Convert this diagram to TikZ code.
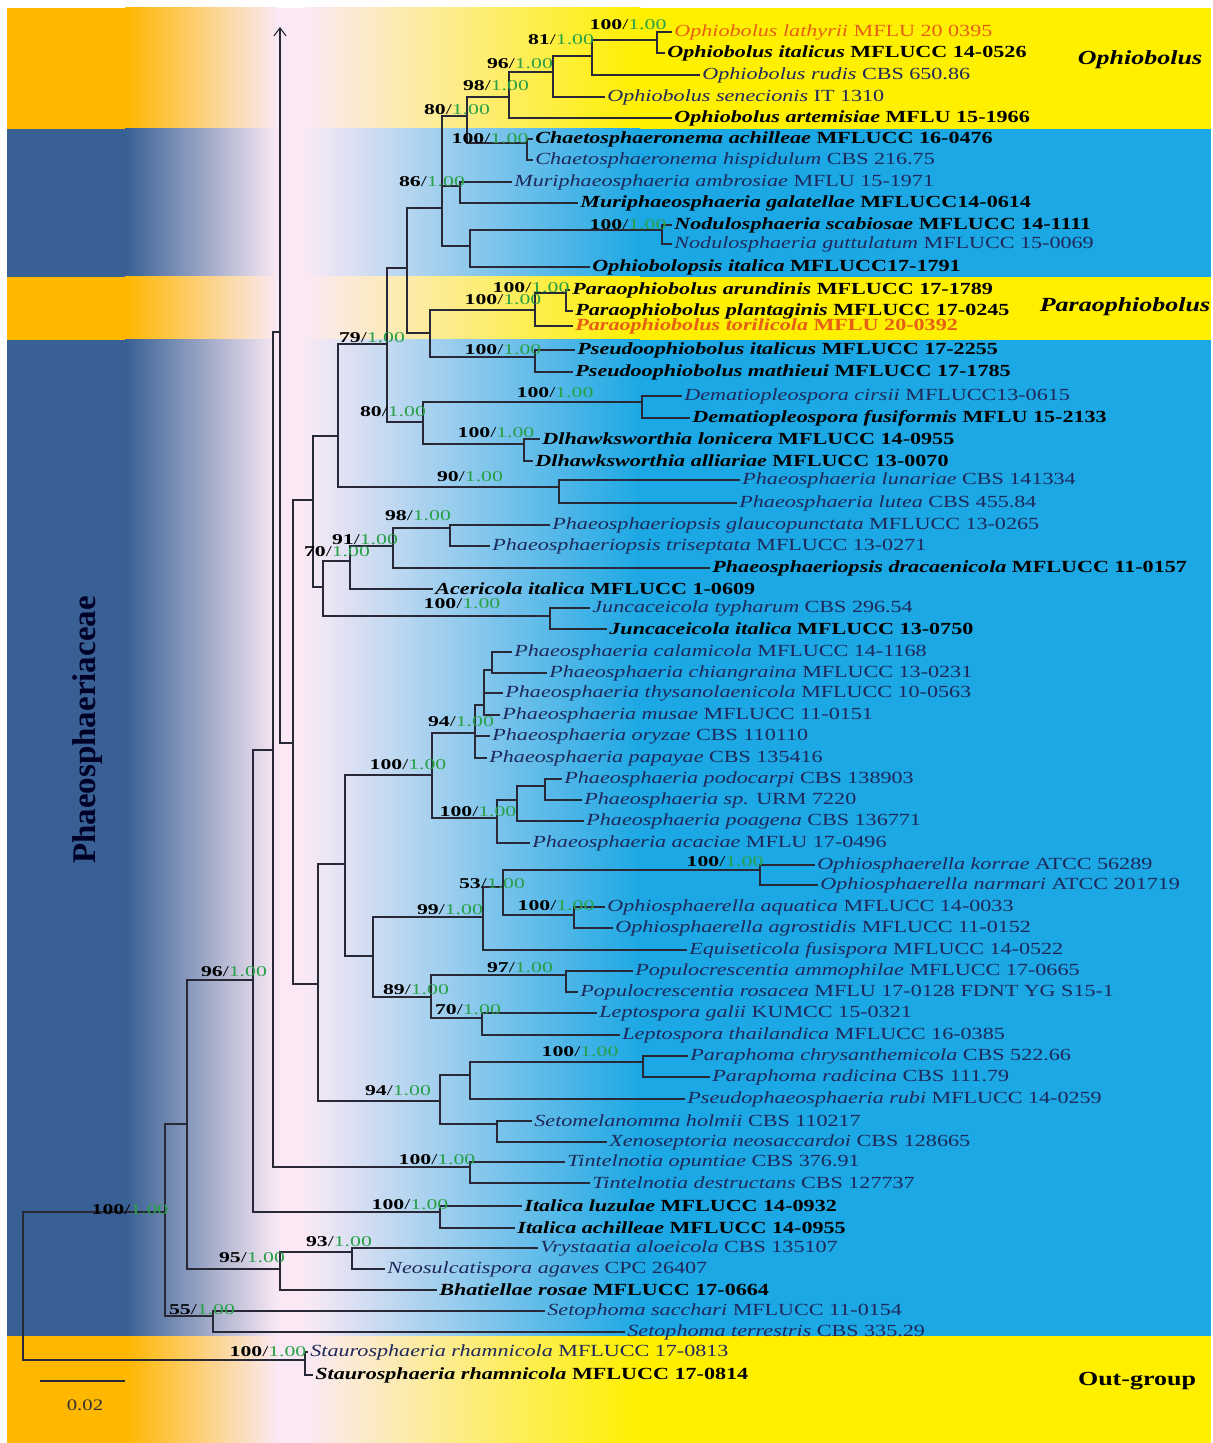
\documentclass[tikz,border=0pt]{standalone}
\usepackage{fontspec}
\usetikzlibrary{arrows.meta}
\setmainfont{Liberation Serif}
\newfontfamily\treefont{Liberation Serif}[FakeStretch=1.3]
\newfontfamily\suppfont{Liberation Serif}[FakeStretch=1.45]

\definecolor{bandyellow}{RGB}{255,240,0}
\definecolor{bandorange}{RGB}{255,183,0}
\definecolor{bandcyan}{RGB}{28,168,228}
\definecolor{banddark}{RGB}{56,96,148}
\definecolor{paleband}{RGB}{250,233,245}
\definecolor{suppgreen}{RGB}{40,160,70}
\definecolor{tipblue}{RGB}{30,40,90}
\definecolor{tiporange}{RGB}{230,95,20}
\definecolor{treeline}{RGB}{40,40,55}

\newcommand{\taxon}[2]{\textit{#1} #2}
\newcommand{\bsv}[1]{\textbf{#1}/\textcolor{suppgreen}{1.00}}
\newcommand{\cladeband}[4]{%
  \fill[#3] (7,#1) rectangle (125,#2);
  \shade[left color=#3, right color=paleband] (125,#1) rectangle (278,#2);
  \fill[paleband] (278,#1) rectangle (305,#2);
  \shade[left color=paleband, right color=#4] (305,#1) rectangle (640,#2);
  \fill[#4] (640,#1) rectangle (1211,#2);}

\tikzset{
  branch/.style={draw=treeline, line width=0.55pt},
  tip/.style={anchor=west, inner xsep=1pt, inner ysep=0pt, text=tipblue,
    font=\treefont\fontsize{8.5}{9}\selectfont},
  btip/.style={tip, text=black, font=\treefont\fontsize{8.5}{9}\selectfont\bfseries},
  otip/.style={tip, text=tiporange},
  obtip/.style={btip, text=tiporange},
  supp/.style={inner sep=0pt, font=\suppfont\fontsize{7.5}{8}\selectfont},
  clade/.style={font=\treefont\fontsize{10}{11}\selectfont\bfseries}
}

\begin{document}
\begin{tikzpicture}[x=0.5pt, y=-0.5pt]
\useasboundingbox (0,0) rectangle (1213,1443);
\fill[white] (0,0) rectangle (1213,1443);

% clade bands
\cladeband{8}{129}{bandorange}{bandyellow}
\cladeband{129}{277}{banddark}{bandcyan}
\cladeband{277}{340}{bandorange}{bandyellow}
\cladeband{340}{1336}{banddark}{bandcyan}
\cladeband{1336}{1443}{bandorange}{bandyellow}

% internal nodes
\coordinate (root) at (23,1286);
\coordinate (ing) at (165,1212);
\coordinate (og) at (305,1360);
\coordinate (a96) at (187,1124);
\coordinate (s55) at (213,1316);
\coordinate (b) at (253,980);
\coordinate (v95) at (280,1269);
\coordinate (w93) at (352,1252);
\coordinate (ita) at (440,1212);
\coordinate (c) at (273,750);
\coordinate (tin) at (470,1167);
\coordinate (d) at (280,332);
\coordinate (arrowtop) at (280,27);
\coordinate (e293) at (293,743);
\coordinate (e313) at (313,500);
\coordinate (f317) at (318,984);
\coordinate (g79) at (338,436);
\coordinate (h70) at (323,587);
\coordinate (p90) at (559,487);
\coordinate (m387) at (387,344);
\coordinate (q80) at (423,422);
\coordinate (dem) at (642,402);
\coordinate (dlh) at (524,444);
\coordinate (n407) at (407,268);
\coordinate (par) at (430,333);
\coordinate (pa1) at (535,310);
\coordinate (pa2) at (566,293);
\coordinate (pse) at (535,357);
\coordinate (r442) at (442,208);
\coordinate (mur) at (460,186);
\coordinate (u470) at (470,246);
\coordinate (nod) at (662,230);
\coordinate (t467) at (467,116);
\coordinate (cha) at (527,143);
\coordinate (o98) at (509,97);
\coordinate (o96) at (553,72);
\coordinate (o81) at (592,56);
\coordinate (o100) at (657,40);
\coordinate (j91) at (350,561);
\coordinate (k) at (393,546);
\coordinate (l98) at (450,528);
\coordinate (jun) at (550,616);
\coordinate (v1) at (345,864);
\coordinate (v2) at (440,1101);
\coordinate (y100) at (432,775);
\coordinate (y2) at (373,956);
\coordinate (z94) at (475,733);
\coordinate (za) at (484,705);
\coordinate (zb) at (492,670);
\coordinate (z2) at (497,818);
\coordinate (z3) at (517,800);
\coordinate (z4) at (545,786);
\coordinate (aa) at (483,917);
\coordinate (cc) at (503,887);
\coordinate (dd) at (760,870);
\coordinate (ee) at (574,915);
\coordinate (bb) at (431,997);
\coordinate (ff) at (566,975);
\coordinate (gg) at (482,1018);
\coordinate (x1) at (470,1075);
\coordinate (x2) at (497,1124);
\coordinate (pp) at (643,1062);

% tips
\node[otip] (olat) at (672,32) {\taxon{Ophiobolus lathyrii}{MFLU 20 0395}};
\node[btip] (oita) at (665,53) {\taxon{Ophiobolus italicus}{MFLUCC 14-0526}};
\node[tip] (orud) at (700,75) {\taxon{Ophiobolus rudis}{CBS 650.86}};
\node[tip] (osen) at (605,97) {\taxon{Ophiobolus senecionis}{IT 1310}};
\node[btip] (oart) at (672,118) {\taxon{Ophiobolus artemisiae}{MFLU 15-1966}};
\node[btip] (cach) at (533,139) {\taxon{Chaetosphaeronema achilleae}{MFLUCC 16-0476}};
\node[tip] (chis) at (533,160) {\taxon{Chaetosphaeronema hispidulum}{CBS 216.75}};
\node[tip] (mamb) at (512,182) {\taxon{Muriphaeosphaeria ambrosiae}{MFLU 15-1971}};
\node[btip] (mgal) at (578,203) {\taxon{Muriphaeosphaeria galatellae}{MFLUCC14-0614}};
\node[btip] (nsca) at (672,225) {\taxon{Nodulosphaeria scabiosae}{MFLUCC 14-1111}};
\node[tip] (ngut) at (672,244) {\taxon{Nodulosphaeria guttulatum}{MFLUCC 15-0069}};
\node[btip] (opit) at (590,267) {\taxon{Ophiobolopsis italica}{MFLUCC17-1791}};
\node[btip] (paru) at (570,290) {\taxon{Paraophiobolus arundinis}{MFLUCC 17-1789}};
\node[btip] (ppla) at (573,311) {\taxon{Paraophiobolus plantaginis}{MFLUCC 17-0245}};
\node[obtip] (ptor) at (573,326) {\taxon{Paraophiobolus torilicola}{MFLU 20-0392}};
\node[btip] (psit) at (575,350) {\taxon{Pseudoophiobolus italicus}{MFLUCC 17-2255}};
\node[btip] (psma) at (573,372) {\taxon{Pseudoophiobolus mathieui}{MFLUCC 17-1785}};
\node[tip] (dcir) at (682,396) {\taxon{Dematiopleospora cirsii}{MFLUCC13-0615}};
\node[btip] (dfus) at (690,418) {\taxon{Dematiopleospora fusiformis}{MFLU 15-2133}};
\node[btip] (dlon) at (540,439) {\taxon{Dlhawksworthia lonicera}{MFLUCC 14-0955}};
\node[btip] (dall) at (533,461) {\taxon{Dlhawksworthia alliariae}{MFLUCC 13-0070}};
\node[tip] (plun) at (740,480) {\taxon{Phaeosphaeria lunariae}{CBS 141334}};
\node[tip] (plut) at (737,503) {\taxon{Phaeosphaeria lutea}{CBS 455.84}};
\node[tip] (pgla) at (550,525) {\taxon{Phaeosphaeriopsis glaucopunctata}{MFLUCC 13-0265}};
\node[tip] (ptri) at (490,546) {\taxon{Phaeosphaeriopsis triseptata}{MFLUCC 13-0271}};
\node[btip] (pdra) at (710,568) {\taxon{Phaeosphaeriopsis dracaenicola}{MFLUCC 11-0157}};
\node[btip] (aita) at (433,589) {\taxon{Acericola italica}{MFLUCC 1-0609}};
\node[tip] (jtyp) at (590,608) {\taxon{Juncaceicola typharum}{CBS 296.54}};
\node[btip] (jita) at (607,629) {\taxon{Juncaceicola italica}{MFLUCC 13-0750}};
\node[tip] (pcal) at (512,652) {\taxon{Phaeosphaeria calamicola}{MFLUCC 14-1168}};
\node[tip] (pchi) at (547,673) {\taxon{Phaeosphaeria chiangraina}{MFLUCC 13-0231}};
\node[tip] (pthy) at (503,693) {\taxon{Phaeosphaeria thysanolaenicola}{MFLUCC 10-0563}};
\node[tip] (pmus) at (500,715) {\taxon{Phaeosphaeria musae}{MFLUCC 11-0151}};
\node[tip] (pory) at (490,736) {\taxon{Phaeosphaeria oryzae}{CBS 110110}};
\node[tip] (ppap) at (487,758) {\taxon{Phaeosphaeria papayae}{CBS 135416}};
\node[tip] (ppod) at (562,779) {\taxon{Phaeosphaeria podocarpi}{CBS 138903}};
\node[tip] (psp) at (582,800) {\taxon{Phaeosphaeria sp.}{URM 7220}};
\node[tip] (ppoa) at (584,821) {\taxon{Phaeosphaeria poagena}{CBS 136771}};
\node[tip] (paca) at (530,843) {\taxon{Phaeosphaeria acaciae}{MFLU 17-0496}};
\node[tip] (okor) at (815,865) {\taxon{Ophiosphaerella korrae}{ATCC 56289}};
\node[tip] (onar) at (818,885) {\taxon{Ophiosphaerella narmari}{ATCC 201719}};
\node[tip] (oaqu) at (605,907) {\taxon{Ophiosphaerella aquatica}{MFLUCC 14-0033}};
\node[tip] (oagr) at (613,928) {\taxon{Ophiosphaerella agrostidis}{MFLUCC 11-0152}};
\node[tip] (efus) at (687,950) {\taxon{Equiseticola fusispora}{MFLUCC 14-0522}};
\node[tip] (pamm) at (633,971) {\taxon{Populocrescentia ammophilae}{MFLUCC 17-0665}};
\node[tip] (pros) at (578,992) {\taxon{Populocrescentia rosacea}{MFLU 17-0128 FDNT YG S15-1}};
\node[tip] (lgal) at (597,1013) {\taxon{Leptospora galii}{KUMCC 15-0321}};
\node[tip] (ltha) at (620,1035) {\taxon{Leptospora thailandica}{MFLUCC 16-0385}};
\node[tip] (pchr) at (688,1056) {\taxon{Paraphoma chrysanthemicola}{CBS 522.66}};
\node[tip] (prad) at (710,1077) {\taxon{Paraphoma radicina}{CBS 111.79}};
\node[tip] (prub) at (685,1099) {\taxon{Pseudophaeosphaeria rubi}{MFLUCC 14-0259}};
\node[tip] (shol) at (532,1121) {\taxon{Setomelanomma holmii}{CBS 110217}};
\node[tip] (xneo) at (607,1142) {\taxon{Xenoseptoria neosaccardoi}{CBS 128665}};
\node[tip] (topu) at (565,1162) {\taxon{Tintelnotia opuntiae}{CBS 376.91}};
\node[tip] (tdes) at (590,1183) {\taxon{Tintelnotia destructans}{CBS 127737}};
\node[btip] (iluz) at (522,1206) {\taxon{Italica luzulae}{MFLUCC 14-0932}};
\node[btip] (iach) at (515,1228) {\taxon{Italica achilleae}{MFLUCC 14-0955}};
\node[tip] (valo) at (538,1248) {\taxon{Vrystaatia aloeicola}{CBS 135107}};
\node[tip] (naga) at (385,1269) {\taxon{Neosulcatispora agaves}{CPC 26407}};
\node[btip] (bros) at (437,1290) {\taxon{Bhatiellae rosae}{MFLUCC 17-0664}};
\node[tip] (ssac) at (545,1311) {\taxon{Setophoma sacchari}{MFLUCC 11-0154}};
\node[tip] (ster) at (625,1332) {\taxon{Setophoma terrestris}{CBS 335.29}};
\node[tip] (str13) at (308,1352) {\taxon{Staurosphaeria rhamnicola}{MFLUCC 17-0813}};
\node[btip] (str14) at (313,1375) {\taxon{Staurosphaeria rhamnicola}{MFLUCC 17-0814}};

% branches between internal nodes
\draw[branch] (root) |- (ing);
\draw[branch] (root) |- (og);
\draw[branch] (ing) |- (a96);
\draw[branch] (ing) |- (s55);
\draw[branch] (a96) |- (b);
\draw[branch] (a96) |- (v95);
\draw[branch] (v95) |- (w93);
\draw[branch] (b) |- (ita);
\draw[branch] (b) |- (c);
\draw[branch] (c) |- (d);
\draw[branch] (c) |- (tin);
\draw[branch, -{Straight Barb[length=4pt, width=6pt]}] (d) -- (arrowtop);
\draw[branch] (d) |- (e293);
\draw[branch] (e293) |- (e313);
\draw[branch] (e293) |- (f317);
\draw[branch] (e313) |- (g79);
\draw[branch] (e313) |- (h70);
\draw[branch] (g79) |- (m387);
\draw[branch] (g79) |- (p90);
\draw[branch] (m387) |- (n407);
\draw[branch] (m387) |- (q80);
\draw[branch] (q80) |- (dem);
\draw[branch] (q80) |- (dlh);
\draw[branch] (n407) |- (r442);
\draw[branch, line width=0.9pt] (n407) |- (par);
\draw[branch] (par) |- (pa1);
\draw[branch] (par) |- (pse);
\draw[branch] (pa1) |- (pa2);
\draw[branch] (r442) |- (t467);
\draw[branch] (r442) |- (mur);
\draw[branch] (r442) |- (u470);
\draw[branch] (u470) |- (nod);
\draw[branch] (t467) |- (o98);
\draw[branch] (t467) |- (cha);
\draw[branch] (o98) |- (o96);
\draw[branch] (o96) |- (o81);
\draw[branch] (o81) |- (o100);
\draw[branch] (h70) |- (j91);
\draw[branch, line width=0.9pt] (h70) |- (jun);
\draw[branch] (j91) |- (k);
\draw[branch, line width=0.9pt] (k) |- (l98);
\draw[branch] (f317) |- (v1);
\draw[branch] (f317) |- (v2);
\draw[branch] (v1) |- (y100);
\draw[branch] (v1) |- (y2);
\draw[branch, line width=0.9pt] (y100) |- (z94);
\draw[branch] (y100) |- (z2);
\draw[branch] (z94) |- (za);
\draw[branch] (za) |- (zb);
\draw[branch] (z2) |- (z3);
\draw[branch] (z3) |- (z4);
\draw[branch] (y2) |- (aa);
\draw[branch] (y2) |- (bb);
\draw[branch] (aa) |- (cc);
\draw[branch] (cc) |- (dd);
\draw[branch] (cc) |- (ee);
\draw[branch] (bb) |- (ff);
\draw[branch] (bb) |- (gg);
\draw[branch] (v2) |- (x1);
\draw[branch] (v2) |- (x2);
\draw[branch] (x1) |- (pp);

% branches to tips
\draw[branch] (og) |- (str13.west);
\draw[branch] (og) |- (str14.west);
\draw[branch] (s55) |- (ssac.west);
\draw[branch] (s55) |- (ster.west);
\draw[branch, line width=0.9pt] (v95) |- (bros.west);
\draw[branch] (w93) |- (valo.west);
\draw[branch] (w93) |- (naga.west);
\draw[branch] (ita) |- (iluz.west);
\draw[branch] (ita) |- (iach.west);
\draw[branch] (tin) |- (topu.west);
\draw[branch] (tin) |- (tdes.west);
\draw[branch] (p90) |- (plun.west);
\draw[branch] (p90) |- (plut.west);
\draw[branch] (dem) |- (dcir.west);
\draw[branch, line width=0.9pt] (dem) |- (dfus.west);
\draw[branch] (dlh) |- (dlon.west);
\draw[branch] (dlh) |- (dall.west);
\draw[branch] (pa2) |- (paru.west);
\draw[branch] (pa2) |- (ppla.west);
\draw[branch] (pa1) |- (ptor.west);
\draw[branch] (pse) |- (psit.west);
\draw[branch] (pse) |- (psma.west);
\draw[branch] (mur) |- (mamb.west);
\draw[branch] (mur) |- (mgal.west);
\draw[branch] (u470) |- (opit.west);
\draw[branch] (nod) |- (nsca.west);
\draw[branch] (nod) |- (ngut.west);
\draw[branch] (cha) |- (cach.west);
\draw[branch] (cha) |- (chis.west);
\draw[branch] (o98) |- (oart.west);
\draw[branch, line width=0.9pt] (o96) |- (osen.west);
\draw[branch] (o81) |- (orud.west);
\draw[branch] (o100) |- (olat.west);
\draw[branch] (o100) |- (oita.west);
\draw[branch] (j91) |- (aita.west);
\draw[branch] (k) |- (pdra.west);
\draw[branch] (l98) |- (pgla.west);
\draw[branch] (l98) |- (ptri.west);
\draw[branch] (jun) |- (jtyp.west);
\draw[branch] (jun) |- (jita.west);
\draw[branch] (z94) |- (pory.west);
\draw[branch] (z94) |- (ppap.west);
\draw[branch] (za) |- (pthy.west);
\draw[branch] (za) |- (pmus.west);
\draw[branch] (zb) |- (pcal.west);
\draw[branch] (zb) |- (pchi.west);
\draw[branch] (z2) |- (paca.west);
\draw[branch] (z3) |- (ppoa.west);
\draw[branch] (z4) |- (ppod.west);
\draw[branch] (z4) |- (psp.west);
\draw[branch] (aa) |- (efus.west);
\draw[branch] (dd) |- (okor.west);
\draw[branch] (dd) |- (onar.west);
\draw[branch] (ee) |- (oaqu.west);
\draw[branch] (ee) |- (oagr.west);
\draw[branch] (ff) |- (pamm.west);
\draw[branch] (ff) |- (pros.west);
\draw[branch] (gg) |- (lgal.west);
\draw[branch] (gg) |- (ltha.west);
\draw[branch] (x1) |- (prub.west);
\draw[branch] (pp) |- (pchr.west);
\draw[branch] (pp) |- (prad.west);
\draw[branch] (x2) |- (shol.west);
\draw[branch] (x2) |- (xneo.west);

% support values
\node[supp] (s-o100) at (628,25) {\bsv{100}};
\node[supp] (s-o81) at (561,40) {\bsv{81}};
\node[supp] (s-o96) at (520,64) {\bsv{96}};
\node[supp] (s-o98) at (496,86) {\bsv{98}};
\node[supp] (s-t467) at (457,110) {\bsv{80}};
\node[supp] (s-cha) at (490,139) {\bsv{100}};
\node[supp] (s-mur) at (432,182) {\bsv{86}};
\node[supp] (s-nod) at (628,225) {\bsv{100}};
\node[supp] (s-pa2) at (531,288) {\bsv{100}};
\node[supp] (s-pa1) at (503,300) {\bsv{100}};
\node[supp] (s-pse) at (503,350) {\bsv{100}};
\node[supp] (s-g79) at (372,338) {\bsv{79}};
\node[supp] (s-q80) at (393,412) {\bsv{80}};
\node[supp] (s-dem) at (555,393) {\bsv{100}};
\node[supp] (s-dlh) at (496,433) {\bsv{100}};
\node[supp] (s-p90) at (470,477) {\bsv{90}};
\node[supp] (s-l98) at (418,516) {\bsv{98}};
\node[supp] (s-j91) at (365,540) {\bsv{91}};
\node[supp] (s-h70) at (337,552) {\bsv{70}};
\node[supp] (s-jun) at (462,604) {\bsv{100}};
\node[supp] (s-z94) at (461,722) {\bsv{94}};
\node[supp] (s-y100) at (408,765) {\bsv{100}};
\node[supp] (s-z2) at (478,812) {\bsv{100}};
\node[supp] (s-dd) at (725,862) {\bsv{100}};
\node[supp] (s-cc) at (492,884) {\bsv{53}};
\node[supp] (s-ee) at (556,906) {\bsv{100}};
\node[supp] (s-aa) at (450,910) {\bsv{99}};
\node[supp] (s-ff) at (520,968) {\bsv{97}};
\node[supp] (s-bb) at (416,990) {\bsv{89}};
\node[supp] (s-gg) at (468,1010) {\bsv{70}};
\node[supp] (s-pp) at (580,1052) {\bsv{100}};
\node[supp] (s-v2) at (398,1091) {\bsv{94}};
\node[supp] (s-tin) at (437,1160) {\bsv{100}};
\node[supp] (s-ita) at (410,1205) {\bsv{100}};
\node[supp] (s-w93) at (339,1242) {\bsv{93}};
\node[supp] (s-v95) at (252,1258) {\bsv{95}};
\node[supp] (s-s55) at (202,1310) {\bsv{55}};
\node[supp] (s-a96) at (234,972) {\bsv{96}};
\node[supp] (s-ing) at (130,1210) {\bsv{100}};
\node[supp] (s-og) at (268,1352) {\bsv{100}};

% clade names
\node[clade, font=\treefont\fontsize{10}{11}\selectfont\bfseries\itshape] (ophlab) at (1140,60) {Ophiobolus};
\node[clade, font=\treefont\fontsize{10}{11}\selectfont\bfseries\itshape] (paralab) at (1125,307) {Paraophiobolus};
\node[clade] (outlab) at (1137,1381) {Out-group};
\node[rotate=90, text=black!85!blue, font=\fontsize{16.5}{18}\selectfont\bfseries] (famlab) at (88,730) {Phaeosphaeriaceae};

% scale bar
\coordinate (bar0) at (40,1381);
\coordinate (bar1) at (125,1381);
\draw[branch] (bar0) -- (bar1);
\node[font=\treefont\fontsize{8}{9}\selectfont, text=black!80] (barlab) at (85,1405) {0.02};
\end{tikzpicture}
\end{document}
